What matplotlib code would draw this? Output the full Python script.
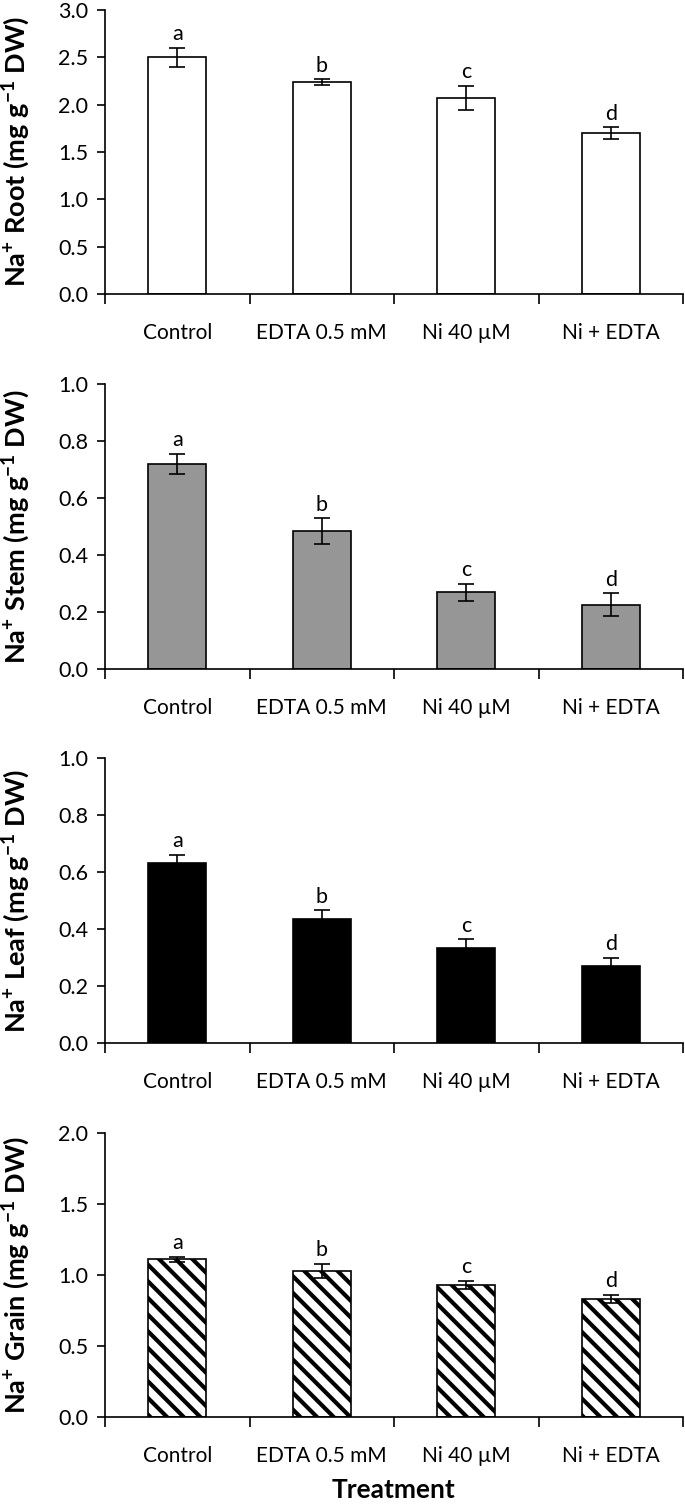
import matplotlib
matplotlib.use('Agg')
from matplotlib import pyplot as plt
import numpy as np

plt.rcParams['font.family'] = ['Lato', 'DejaVu Sans']
plt.rcParams['mathtext.fontset'] = 'custom'
plt.rcParams['mathtext.rm'] = 'Lato:bold'
plt.rcParams['mathtext.bf'] = 'Lato:bold'
plt.rcParams['mathtext.default'] = 'bf'
plt.rcParams['hatch.linewidth'] = 3.0

# Data
treatments = ['Control', 'EDTA 0.5 mM', 'Ni 40 \u00b5M', 'Ni + EDTA']
letters = ['a', 'b', 'c', 'd']

root_mean = [2.50, 2.24, 2.07, 1.70]
root_err = [0.10, 0.03, 0.13, 0.06]
stem_mean = [0.72, 0.485, 0.27, 0.225]
stem_err = [0.035, 0.045, 0.03, 0.04]
leaf_mean = [0.63, 0.435, 0.335, 0.27]
leaf_err = [0.03, 0.03, 0.03, 0.03]
grain_mean = [1.11, 1.03, 0.93, 0.83]
grain_err = [0.02, 0.05, 0.03, 0.03]

panels = [
    ('Root', root_mean, root_err, 'white', None, 3.0, 0.5),
    ('Stem', stem_mean, stem_err, '#969696', None, 1.0, 0.2),
    ('Leaf', leaf_mean, leaf_err, 'black', None, 1.0, 0.2),
    ('Grain', grain_mean, grain_err, 'white', '\\\\', 2.0, 0.5),
]

fig = plt.figure(figsize=(6.85, 15.07), dpi=100)

# axes boxes in pixel terms (top, bottom) of a 1507 px tall figure
boxes = [(10, 294), (384, 669), (758, 1043), (1133, 1417)]
left, right = 105 / 685, 683 / 685

x = np.arange(len(treatments))
for (name, mean, err, color, hatch, ymax, step), (top, bot) in zip(panels, boxes):
    ax = fig.add_axes([left, 1 - bot / 1507, right - left, (bot - top) / 1507])
    ax.bar(x, mean, width=0.4, color=color, edgecolor='black', linewidth=1.2,
           hatch=hatch, zorder=2)
    ax.errorbar(x, mean, yerr=err, fmt='none', ecolor='black', elinewidth=1.2,
                capsize=6, capthick=1.2, zorder=3)
    for xi, m, e, l in zip(x, mean, err, letters):
        ax.text(xi, m + e + ymax * 0.012, l, ha='center', va='bottom', fontsize=15.5)

    ax.set_xlim(-0.5, len(treatments) - 0.5)
    ax.set_ylim(0, ymax)
    ax.set_yticks(np.arange(0, ymax + step / 2, step))
    ax.set_yticklabels([f'{v:.1f}' for v in np.arange(0, ymax + step / 2, step)])

    ax.set_xticks(np.arange(-0.5, len(treatments), 1.0))
    ax.set_xticklabels([])
    ax.set_xticks(x, minor=True)
    ax.set_xticklabels(treatments, minor=True)
    ax.tick_params(axis='x', which='major', direction='out', length=7, width=1.2)
    ax.tick_params(axis='x', which='minor', length=0, pad=21, labelsize=15)
    ax.tick_params(axis='y', direction='out', length=6, width=1.2, labelsize=15.5, pad=6)

    ax.spines['top'].set_visible(False)
    ax.spines['right'].set_visible(False)
    ax.spines['left'].set_linewidth(1.2)
    ax.spines['bottom'].set_linewidth(1.2)

    ax.set_ylabel('Na$^{+}$ ' + name + ' (mg g$^{-1}$ DW)', fontsize=19.5,
                  fontweight='bold')
    ax.yaxis.set_label_coords(-0.127, 0.5)

fig.text((left + right) / 2, 1 - 1490 / 1507, 'Treatment', ha='center', va='center',
         fontsize=19, fontweight='bold')

fig.savefig('out.png', dpi=100)
